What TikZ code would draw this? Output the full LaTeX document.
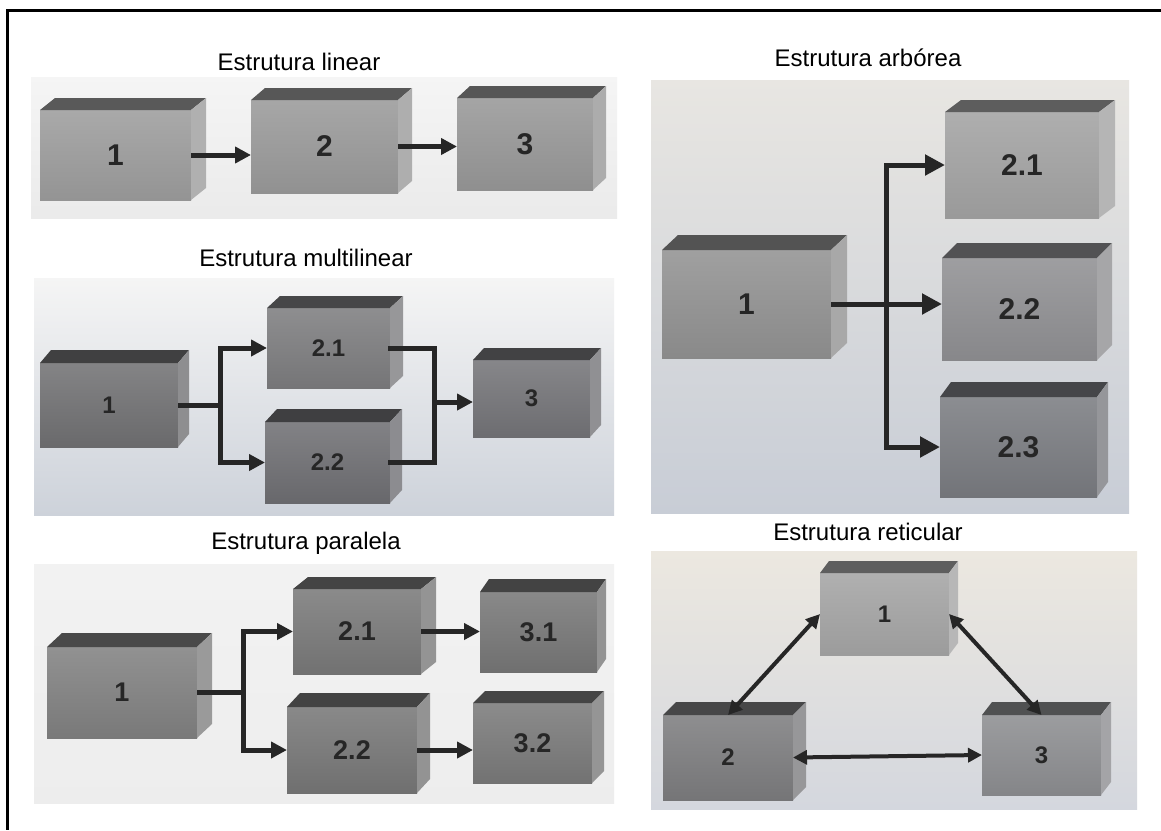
\documentclass[tikz,border=0pt]{standalone}
\usepackage{fontspec}
\setmainfont{Liberation Sans}
\usetikzlibrary{arrows.meta}
\definecolor{arrowc}{HTML}{262626}
\definecolor{lblc}{HTML}{262626}
\definecolor{cL1}{HTML}{9A9A9A}
\definecolor{cL2}{HTML}{979797}
\definecolor{cL3}{HTML}{959595}
\definecolor{cM1}{HTML}{6E6E70}
\definecolor{cM21}{HTML}{7A7A7C}
\definecolor{cM22}{HTML}{6C6C70}
\definecolor{cM3}{HTML}{717175}
\definecolor{cP1}{HTML}{7E7E7E}
\definecolor{cP21}{HTML}{767676}
\definecolor{cP22}{HTML}{747474}
\definecolor{cP31}{HTML}{747474}
\definecolor{cP32}{HTML}{777777}
\definecolor{cA1}{HTML}{8F8F8F}
\definecolor{cA21}{HTML}{A0A0A0}
\definecolor{cA22}{HTML}{8D8D90}
\definecolor{cA23}{HTML}{77797E}
\definecolor{cR1}{HTML}{A2A2A2}
\definecolor{cR2}{HTML}{7A7A7C}
\definecolor{cR3}{HTML}{8A8B8E}
\tikzset{
  title/.style={font=\fontsize{24}{28}\selectfont, text=black, inner sep=0pt},
  blockfront/.style={inner sep=0pt, outer sep=0pt, text=lblc, bfont},
  bfont/.style={font=\fontsize{25}{30}\selectfont\bfseries},
  arr/.style={line width=5pt, draw=arrowc, -{Triangle[length=16pt,width=16pt]}},
  conn/.style={line width=5pt, draw=arrowc, line cap=rect},
  darr/.style={line width=4pt, draw=arrowc, {Triangle[length=14pt,width=14pt]}-{Triangle[length=14pt,width=14pt]}},
  panelbg/.style={draw=none}
}
% name, x1, y1, x2, y2, dx, dy, label, color
\newcommand{\blk}[9]{%
  \node[blockfront, top color=#9!85!white, bottom color=#9!96!black,
        minimum width={(#4)-(#2)}, minimum height={(#5)-(#3)}]
        (#1) at ({((#2)+(#4))/2},{((#3)+(#5))/2}) {#8};
  \fill[#9!58!black] (#1.north west) -- ++(#6,-#7) -- ++({(#4)-(#2)},0) -- (#1.north east) -- cycle;
  \fill[#9!78!white] (#1.north east) -- ++(#6,-#7) -- ++(0,{(#5)-(#3)}) -- (#1.south east) -- cycle;
}
\begin{document}
\begin{tikzpicture}[x=1pt,y=-1pt]
\useasboundingbox (0,0) rectangle (1161,830);
\fill[white] (0,0) rectangle (1161,830);
% outer frame (top and left)
\draw[line width=3pt, line join=miter] (1161,10) -- (7,10) -- (7,830);

% ---------- panel backgrounds ----------
\shade[top color=gray!8, bottom color=gray!16] (31,77) rectangle (617,218);
\shade[top color=gray!8, bottom color={rgb,255:red,205;green,210;blue,218}] (34,278) rectangle (614,515);
\shade[top color=gray!10, bottom color=gray!14] (34,564) rectangle (614,803);
\shade[top color={rgb,255:red,232;green,230;blue,226}, bottom color={rgb,255:red,200;green,205;blue,214}] (651,80) rectangle (1129,513);
\shade[top color={rgb,255:red,236;green,232;blue,224}, bottom color={rgb,255:red,212;green,215;blue,222}] (651,551) rectangle (1137,809);

% ---------- titles ----------
\node[title] (t1) at (299,62) {Estrutura linear};
\node[title] (t2) at (306,258) {Estrutura multilinear};
\node[title] (t3) at (306,543) {Estrutura paralela};
\node[title] (t4) at (868,58) {Estrutura arbórea};
\node[title] (t5) at (868,532) {Estrutura reticular};

% ---------- linear ----------
\begin{scope}[bfont/.style={font=\fontsize{30}{34}\selectfont\bfseries}]
\blk{L1}{40}{110}{191}{200}{15}{12}{1}{cL1}
\blk{L2}{251}{100}{398}{193}{14}{12}{2}{cL2}
\blk{L3}{457}{98}{593}{190}{13}{12}{3}{cL3}
\end{scope}
\draw[arr] (L1.east) -- (L1.east -| L2.west);
\draw[arr] (L2.east) -- (L2.east -| L3.west);

% ---------- multilinear ----------
\begin{scope}[bfont/.style={font=\fontsize{24}{28}\selectfont\bfseries}]
\blk{M1}{40}{363}{178}{447}{11}{13}{1}{cM1}
\blk{M21}{267}{308}{390}{388}{13}{12}{2.1}{cM21}
\blk{M22}{265}{422}{390}{503}{12}{13}{2.2}{cM22}
\blk{M3}{473}{360}{590}{437}{11}{12}{3}{cM3}
\end{scope}
\coordinate (mj) at (434,402);
\draw[arr] (M1.east) -- ++(42,0) |- (M21.west);
\draw[arr] (M1.east) -- ++(42,0) |- (M22.west);
\draw[conn] (M21.east) -| (mj);
\draw[conn] (M22.east) -| (mj);
\draw[arr] (mj) -- (mj -| M3.west);

% ---------- paralela ----------
\begin{scope}[bfont/.style={font=\fontsize{27}{32}\selectfont\bfseries}]
\blk{P1}{47}{647}{197}{738}{15}{14}{1}{cP1}
\blk{P21}{293}{589}{421}{674}{15}{12}{2.1}{cP21}
\blk{P22}{287}{707}{417}{793}{13}{14}{2.2}{cP22}
\blk{P31}{480}{592}{597}{672}{9}{13}{3.1}{cP31}
\blk{P32}{473}{703}{592}{783}{12}{12}{3.2}{cP32}
\end{scope}
\draw[arr] (P1.east) -- ++(46,0) |- (P21.west);
\draw[arr] (P1.east) -- ++(46,0) |- (P22.west);
\draw[arr] (P21.east) -- (P21.east -| P31.west);
\draw[arr] (P22.east) -- (P22.east -| P32.west);

% ---------- arborea ----------
\begin{scope}[bfont/.style={font=\fontsize{30}{34}\selectfont\bfseries}]
\blk{A1}{662}{250}{831}{358}{16}{15}{1}{cA1}
\blk{A21}{945}{112}{1099}{218}{16}{12}{2.1}{cA21}
\blk{A22}{942}{258}{1097}{360}{15}{15}{2.2}{cA22}
\blk{A23}{940}{397}{1097}{497}{11}{15}{2.3}{cA23}
\end{scope}
\coordinate (av) at (886,300);
\draw[conn] (av |- A21.west) -- (av |- A23.west);
\draw[arr, -{Triangle[length=20pt,width=20pt]}] (av |- A21.west) -- (A21.west);
\draw[arr, -{Triangle[length=20pt,width=20pt]}] (av |- A23.west) -- (A23.west);
\draw[arr, -{Triangle[length=20pt,width=20pt]}] (A1.east) -- (A1.east -| A22.west);

% ---------- reticular ----------
\begin{scope}[bfont/.style={font=\fontsize{24}{28}\selectfont\bfseries}]
\blk{R1}{820}{573}{949}{655}{9}{12}{1}{cR1}
\blk{R2}{663}{715}{793}{800}{13}{13}{2}{cR2}
\blk{R3}{982}{715}{1101}{795}{10}{13}{3}{cR3}
\end{scope}
\draw[darr] (R1.west) -- (R2.north);
\draw[darr] (R1.east) -- (R3.north);
\draw[darr] (R2.east) -- (R3.west);
\end{tikzpicture}
\end{document}
